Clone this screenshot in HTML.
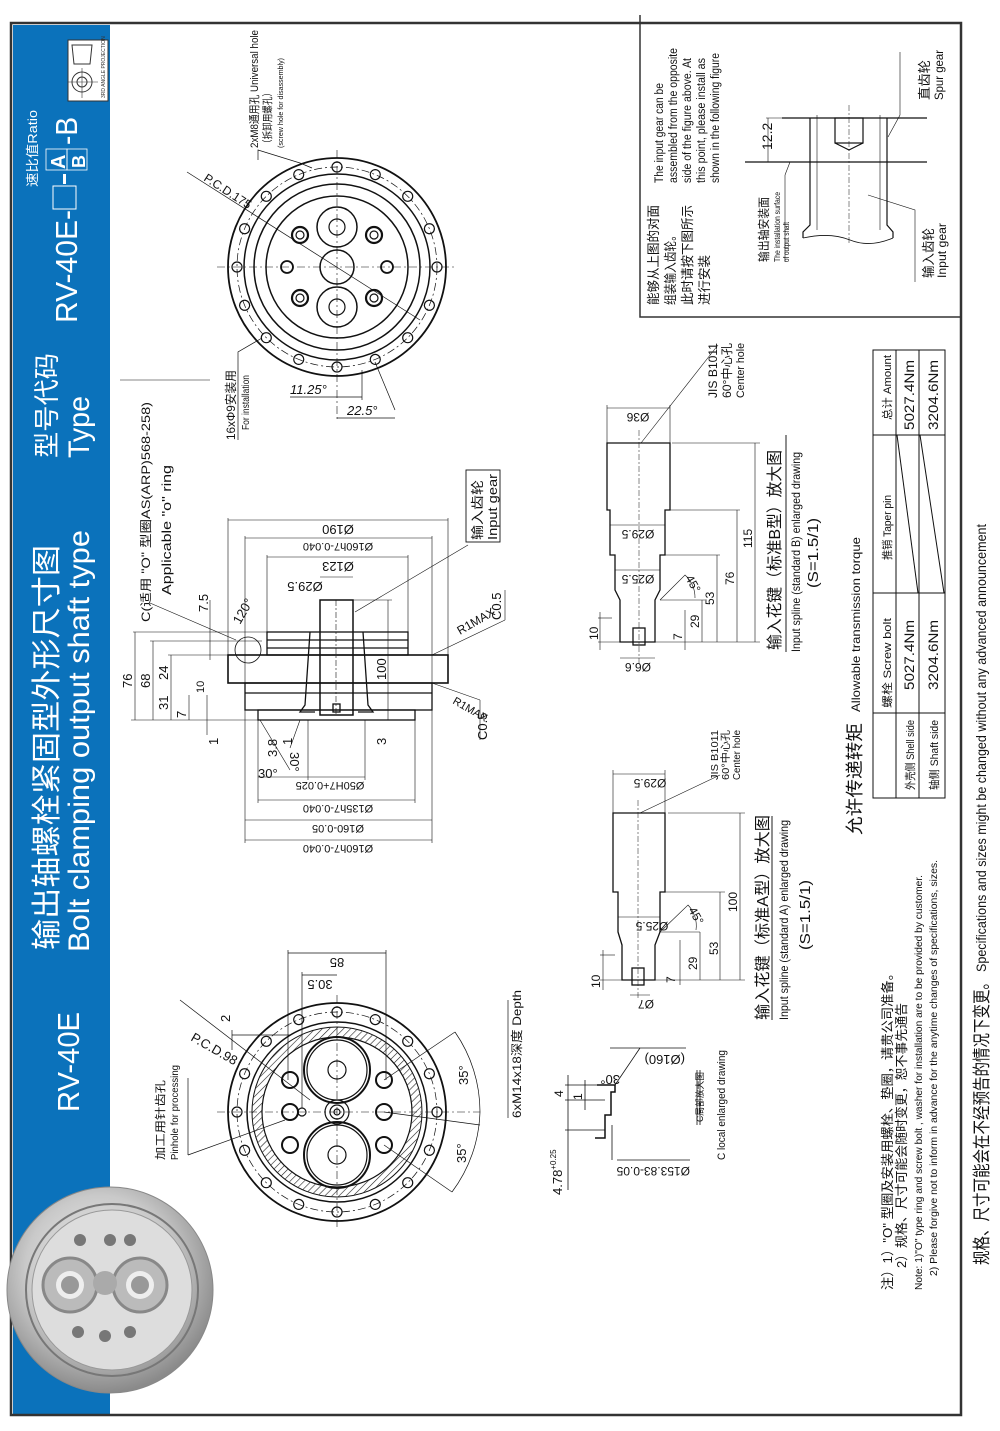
<!DOCTYPE html>
<html><head><meta charset="utf-8"><style>
html,body{margin:0;padding:0;background:#fff}
svg{display:block}
text{font-family:"Liberation Sans","Noto Sans CJK SC",sans-serif}
</style></head><body>
<svg width="1000" height="1431" viewBox="0 0 1000 1431" xmlns="http://www.w3.org/2000/svg">
<defs>
<radialGradient id="met" cx="45%" cy="40%" r="60%">
<stop offset="0" stop-color="#f4f4f4"/><stop offset="0.6" stop-color="#c9c9c9"/><stop offset="1" stop-color="#8a8a8a"/>
</radialGradient>
<pattern id="hat" width="5" height="5" patternUnits="userSpaceOnUse" patternTransform="rotate(45)">
<line x1="0" y1="0" x2="0" y2="5" stroke="#222" stroke-width="1.2"/></pattern>
</defs>
<rect x="0" y="0" width="1000" height="1431" fill="#fff"/>
<rect x="13" y="25" width="97" height="1389" fill="#0b72bb"/>
<rect x="11" y="23" width="950" height="1392" fill="none" stroke="#333" stroke-width="2.5"/>
<rect x="68" y="40" width="40" height="61" fill="#fff" stroke="#333"/>
<path d="M72 45 L92 45 L90 64 L74 64 Z" fill="none" stroke="#333"/>
<circle cx="82" cy="82" r="10" fill="none" stroke="#333"/><circle cx="82" cy="82" r="5" fill="none" stroke="#333"/>
<line x1="68" y1="82" x2="98" y2="82" stroke="#333" stroke-width=".6"/><line x1="82" y1="68" x2="82" y2="98" stroke="#333" stroke-width=".6"/>
<text transform="translate(105,98) rotate(-90)" font-size="5" fill="#333">3RD ANGLE PROJECTION</text>
<g fill="#fff">
<text transform="translate(37,187) rotate(-90)" font-size="13" textLength="77" lengthAdjust="spacingAndGlyphs">速比值Ratio</text>
<text transform="translate(77,323) rotate(-90)" font-size="31" textLength="113" lengthAdjust="spacingAndGlyphs">RV-40E-</text>
<rect x="53" y="186" width="23" height="23" fill="none" stroke="#fff" stroke-width="1"/>
<rect x="63" y="174" width="3" height="10"/>
<rect x="46" y="149" width="21" height="21" fill="none" stroke="#fff" stroke-width=".8"/><rect x="67" y="149" width="20" height="21" fill="none" stroke="#fff" stroke-width=".8"/>
<text transform="translate(65,169) rotate(-90)" font-size="20" font-weight="bold">A</text>
<text transform="translate(85,168) rotate(-90)" font-size="18" font-weight="bold">B</text>
<text transform="translate(77,145) rotate(-90)" font-size="31" textLength="28" lengthAdjust="spacingAndGlyphs">-B</text>
<text transform="translate(56,458) rotate(-90)" font-size="26" textLength="105" lengthAdjust="spacingAndGlyphs">型号代码</text>
<text transform="translate(89,458) rotate(-90)" font-size="30" textLength="62" lengthAdjust="spacingAndGlyphs">Type</text>
<text transform="translate(57,950) rotate(-90)" font-size="30" textLength="405" lengthAdjust="spacingAndGlyphs">输出轴螺栓紧固型外形尺寸图</text>
<text transform="translate(89,952) rotate(-90)" font-size="30" textLength="422" lengthAdjust="spacingAndGlyphs">Bolt clamping output shaft type</text>
<text transform="translate(79,1112) rotate(-90)" font-size="31" textLength="100" lengthAdjust="spacingAndGlyphs">RV-40E</text>
</g>
<g>
<circle cx="110" cy="1290" r="103" fill="url(#met)" stroke="#888"/>
<circle cx="112" cy="1290" r="86" fill="none" stroke="#777" stroke-width="2"/>
<circle cx="112" cy="1290" r="80" fill="#ddd" stroke="#999"/>
<circle cx="70" cy="1285" r="27" fill="#bbb" stroke="#888" stroke-width="3"/><circle cx="70" cy="1285" r="14" fill="#eee"/><circle cx="70" cy="1285" r="9" fill="#999"/>
<circle cx="140" cy="1285" r="27" fill="#bbb" stroke="#888" stroke-width="3"/><circle cx="140" cy="1285" r="14" fill="#eee"/><circle cx="140" cy="1285" r="9" fill="#999"/>
<circle cx="105" cy="1283" r="12" fill="#aaa"/>
<circle cx="80" cy="1240" r="6" fill="#777"/><circle cx="110" cy="1240" r="6" fill="#777"/><circle cx="130" cy="1240" r="6" fill="#777"/>
<circle cx="78" cy="1332" r="6" fill="#777"/><circle cx="105" cy="1336" r="6" fill="#777"/><circle cx="130" cy="1332" r="6" fill="#777"/>
</g>
<g fill="none" stroke="#111" stroke-width="1.2">
<circle cx="337" cy="267" r="109" stroke-width="1.8"/>
<circle cx="337" cy="267" r="100" stroke-dasharray="8 3 2 3" stroke-width=".7"/>
<circle cx="337" cy="267" r="93" stroke-width="1.5"/>
<circle cx="337" cy="267" r="83" stroke-width="1.5"/>
<circle cx="337" cy="267" r="71" stroke-width="1.5"/>
<g id="h16"><circle cx="437" cy="267" r="5"/></g>
<use href="#h16" transform="rotate(22.5 337 267)"/><use href="#h16" transform="rotate(45 337 267)"/><use href="#h16" transform="rotate(67.5 337 267)"/>
<use href="#h16" transform="rotate(90 337 267)"/><use href="#h16" transform="rotate(112.5 337 267)"/><use href="#h16" transform="rotate(135 337 267)"/>
<use href="#h16" transform="rotate(157.5 337 267)"/><use href="#h16" transform="rotate(180 337 267)"/><use href="#h16" transform="rotate(202.5 337 267)"/>
<use href="#h16" transform="rotate(225 337 267)"/><use href="#h16" transform="rotate(247.5 337 267)"/><use href="#h16" transform="rotate(270 337 267)"/>
<use href="#h16" transform="rotate(292.5 337 267)"/><use href="#h16" transform="rotate(315 337 267)"/><use href="#h16" transform="rotate(337.5 337 267)"/>
<circle cx="337" cy="267" r="17" stroke-width="1.5"/>
<circle cx="337" cy="227" r="20" stroke-width="1.5"/><circle cx="337" cy="227" r="8"/>
<circle cx="337" cy="307" r="20" stroke-width="1.5"/><circle cx="337" cy="307" r="8"/>
<circle cx="300" cy="235" r="8" stroke-width="2.2"/><circle cx="300" cy="235" r="4"/>
<circle cx="374" cy="235" r="8" stroke-width="2.2"/><circle cx="374" cy="235" r="4"/>
<circle cx="300" cy="298" r="8" stroke-width="2.2"/><circle cx="300" cy="298" r="4"/>
<circle cx="374" cy="298" r="8" stroke-width="2.2"/><circle cx="374" cy="298" r="4"/>
<circle cx="287" cy="267" r="6" stroke-width="1.8"/><circle cx="387" cy="267" r="6" stroke-width="1.8"/>
<line x1="217" y1="267" x2="457" y2="267" stroke-width=".6" stroke-dasharray="8 3 2 3"/>
<line x1="337" y1="150" x2="337" y2="420" stroke-width=".6" stroke-dasharray="8 3 2 3"/>
<line x1="187" y1="172" x2="420" y2="320" stroke-width=".7"/>
<polyline points="258,160 258,150 300,163 312,168" stroke-width=".7"/>
<polyline points="238,440 238,352 262,338" stroke-width=".7"/>
<line x1="290" y1="397" x2="362" y2="397" stroke-width=".7"/><line x1="362" y1="370" x2="362" y2="400" stroke-width=".7"/>
<line x1="337" y1="418" x2="395" y2="418" stroke-width=".7"/><line x1="375" y1="362" x2="395" y2="410" stroke-width=".7"/>
</g>
<g fill="#111">
<text transform="translate(203,180) rotate(33)" font-size="12">P.C.D.175</text>
<text transform="translate(258,148) rotate(-90)" font-size="11" textLength="118" lengthAdjust="spacingAndGlyphs">2xM8通用孔 Universal hole</text>
<text transform="translate(271,148) rotate(-90)" font-size="10.5" textLength="60" lengthAdjust="spacingAndGlyphs">（拆卸用螺孔）</text>
<text transform="translate(283,148) rotate(-90)" font-size="7" textLength="90" lengthAdjust="spacingAndGlyphs">(screw hole for disassembly)</text>
<text transform="translate(235,440) rotate(-90)" font-size="12" textLength="70" lengthAdjust="spacingAndGlyphs">16xΦ9安装用</text>
<text transform="translate(249,430) rotate(-90)" font-size="10" textLength="55" lengthAdjust="spacingAndGlyphs">For installation</text>
<text x="290" y="394" font-size="13" font-style="italic">11.25°</text>
<text x="347" y="415" font-size="13" font-style="italic">22.5°</text>
</g>
<g fill="none" stroke="#111" stroke-width="1.3">
<rect x="228" y="655" width="220" height="28" stroke-width="1.6"/>
<rect x="267" y="632" width="141" height="23"/>
<line x1="267" y1="640" x2="408" y2="640"/><line x1="267" y1="648" x2="408" y2="648"/>
<rect x="245" y="683" width="187" height="27"/>
<line x1="245" y1="693" x2="432" y2="693"/>
<rect x="258" y="710" width="157" height="10"/>
<rect x="320" y="600" width="33" height="115" stroke-width="1.5"/>
<path d="M310 632 L305 705 L300 712 L315 712 M363 632 L368 705 L373 712 L358 712"/>
<line x1="336" y1="600" x2="336" y2="715" stroke-width=".6" stroke-dasharray="6 2 2 2"/>
<rect x="333" y="704" width="7" height="8"/>
<circle cx="248" cy="650" r="13" stroke-width=".8"/>
<g stroke-width=".6">
<line x1="228" y1="520" x2="448" y2="520"/><line x1="228" y1="518" x2="228" y2="655"/><line x1="448" y1="518" x2="448" y2="655"/>
<line x1="245" y1="538" x2="432" y2="538"/><line x1="245" y1="536" x2="245" y2="683"/><line x1="432" y1="536" x2="432" y2="683"/>
<line x1="267" y1="557" x2="408" y2="557"/><line x1="267" y1="555" x2="267" y2="632"/><line x1="408" y1="555" x2="408" y2="632"/>
<line x1="320" y1="577" x2="353" y2="577"/>
<line x1="258" y1="777" x2="365" y2="777"/><line x1="308" y1="720" x2="308" y2="780"/><line x1="365" y1="720" x2="365" y2="780"/>
<line x1="258" y1="800" x2="415" y2="800"/><line x1="258" y1="720" x2="258" y2="803"/><line x1="415" y1="720" x2="415" y2="803"/>
<line x1="245" y1="820" x2="432" y2="820"/><line x1="245" y1="710" x2="245" y2="843"/><line x1="432" y1="710" x2="432" y2="843"/>
<line x1="245" y1="840" x2="432" y2="840"/>
<line x1="135" y1="632" x2="135" y2="720"/><line x1="133" y1="632" x2="267" y2="632"/>
<line x1="153" y1="641" x2="153" y2="720"/><line x1="150" y1="641" x2="262" y2="641"/>
<line x1="171" y1="655" x2="171" y2="720"/><line x1="168" y1="655" x2="228" y2="655"/>
<line x1="189" y1="695" x2="189" y2="720"/><line x1="131" y1="720" x2="258" y2="720"/>
<line x1="207" y1="695" x2="207" y2="735"/>
<line x1="210" y1="600" x2="210" y2="660"/>
<line x1="388" y1="600" x2="388" y2="720"/><line x1="353" y1="600" x2="392" y2="600"/>
<line x1="150" y1="603" x2="236" y2="640"/>
<line x1="120" y1="380" x2="210" y2="380"/>
<line x1="355" y1="612" x2="468" y2="545"/>
<line x1="432" y1="655" x2="505" y2="620"/><line x1="505" y1="620" x2="505" y2="590"/>
<line x1="432" y1="683" x2="480" y2="700"/><line x1="480" y1="700" x2="480" y2="740"/>
<line x1="260" y1="720" x2="290" y2="770"/>
<line x1="300" y1="720" x2="290" y2="748"/>
</g>
<rect x="466" y="470" width="34" height="72" stroke-width=".9"/>
</g>
<g fill="#111" font-size="13">
<text transform="translate(338,525) rotate(180)" text-anchor="middle">Ø190</text>
<text transform="translate(338,543) rotate(180)" text-anchor="middle" font-size="11">Ø160h7-0.040</text>
<text transform="translate(338,562) rotate(180)" text-anchor="middle">Ø123</text>
<text transform="translate(305,582) rotate(180)" text-anchor="middle">Ø29.5</text>
<text transform="translate(330,782) rotate(180)" text-anchor="middle" font-size="11">Ø50H7+0.025</text>
<text transform="translate(338,805) rotate(180)" text-anchor="middle" font-size="11">Ø135h7-0.040</text>
<text transform="translate(338,825) rotate(180)" text-anchor="middle" font-size="11">Ø160-0.05</text>
<text transform="translate(338,845) rotate(180)" text-anchor="middle" font-size="11">Ø160h7-0.040</text>
<text transform="translate(132,688) rotate(-90)">76</text>
<text transform="translate(150,688) rotate(-90)">68</text>
<text transform="translate(168,680) rotate(-90)">24</text>
<text transform="translate(168,710) rotate(-90)">31</text>
<text transform="translate(186,718) rotate(-90)">7</text>
<text transform="translate(204,693) rotate(-90)" font-size="11">10</text>
<text transform="translate(218,745) rotate(-90)">1</text>
<text transform="translate(208,612) rotate(-90)">7.5</text>
<text transform="translate(386,680) rotate(-90)">100</text>
<text transform="translate(386,745) rotate(-90)">3</text>
<text transform="translate(277,757) rotate(-90)">3.8</text>
<text transform="translate(292,745) rotate(-90)">1</text>
<text x="258" y="778">30°</text>
<text transform="translate(290,752) rotate(90)">30°</text>
<text transform="translate(240,625) rotate(-60)">120°</text>
<text transform="translate(460,635) rotate(-30)" font-size="12">R1MAX</text>
<text transform="translate(452,703) rotate(30)" font-size="11">R1MAX</text>
<text transform="translate(501,620) rotate(-90)">C0.5</text>
<text transform="translate(487,740) rotate(-90)">C0.5</text>
<text transform="translate(150,622) rotate(-90)" font-size="12" textLength="220" lengthAdjust="spacingAndGlyphs">C(适用 "O" 型圈AS(ARP)568-258)</text>
<text transform="translate(171,595) rotate(-90)" font-size="13" textLength="130" lengthAdjust="spacingAndGlyphs">Applicable "o" ring</text>
<text transform="translate(482,540) rotate(-90)" font-size="13" textLength="60" lengthAdjust="spacingAndGlyphs">输入齿轮</text>
<text transform="translate(497,540) rotate(-90)" font-size="13" textLength="66" lengthAdjust="spacingAndGlyphs">Input gear</text>
</g>
<g fill="none" stroke="#111" stroke-width="1.2">
<circle cx="337" cy="1112" r="109" stroke-width="1.8"/>
<circle cx="337" cy="1112" r="100" stroke-dasharray="8 3 2 3" stroke-width=".7"/>
<circle cx="337" cy="1112" r="90" stroke-width="1.5"/>
<circle cx="337" cy="1112" r="80" stroke="url(#hat)" stroke-width="9"/>
<circle cx="337" cy="1112" r="85" stroke-width="1"/>
<circle cx="337" cy="1112" r="75" stroke-width="1.2"/>
<g id="g16"><circle cx="437" cy="1112" r="5"/></g>
<use href="#g16" transform="rotate(22.5 337 1112)"/><use href="#g16" transform="rotate(45 337 1112)"/><use href="#g16" transform="rotate(67.5 337 1112)"/>
<use href="#g16" transform="rotate(90 337 1112)"/><use href="#g16" transform="rotate(112.5 337 1112)"/><use href="#g16" transform="rotate(135 337 1112)"/>
<use href="#g16" transform="rotate(157.5 337 1112)"/><use href="#g16" transform="rotate(180 337 1112)"/><use href="#g16" transform="rotate(202.5 337 1112)"/>
<use href="#g16" transform="rotate(225 337 1112)"/><use href="#g16" transform="rotate(247.5 337 1112)"/><use href="#g16" transform="rotate(270 337 1112)"/>
<use href="#g16" transform="rotate(292.5 337 1112)"/><use href="#g16" transform="rotate(315 337 1112)"/><use href="#g16" transform="rotate(337.5 337 1112)"/>
<circle cx="337" cy="1070" r="33" stroke-width="2"/><circle cx="337" cy="1070" r="30"/><circle cx="337" cy="1070" r="9"/>
<circle cx="337" cy="1155" r="33" stroke-width="2"/><circle cx="337" cy="1155" r="30"/><circle cx="337" cy="1155" r="9"/>
<circle cx="337" cy="1112" r="12"/><circle cx="337" cy="1112" r="7"/><circle cx="337" cy="1112" r="3"/>
<circle cx="290" cy="1080" r="8" stroke-width="2"/><circle cx="384" cy="1080" r="8" stroke-width="2"/>
<circle cx="290" cy="1112" r="8" stroke-width="2"/><circle cx="384" cy="1112" r="8" stroke-width="2"/>
<circle cx="290" cy="1145" r="8" stroke-width="2"/><circle cx="384" cy="1145" r="8" stroke-width="2"/>
<circle cx="302" cy="1112" r="4"/>
<line x1="217" y1="1112" x2="480" y2="1112" stroke-width=".6" stroke-dasharray="8 3 2 3"/>
<line x1="337" y1="995" x2="337" y2="1230" stroke-width=".6" stroke-dasharray="8 3 2 3"/>
<g stroke-width=".7">
<line x1="288" y1="953" x2="386" y2="953"/><line x1="288" y1="950" x2="288" y2="1080"/><line x1="386" y1="950" x2="386" y2="1080"/>
<line x1="302" y1="975" x2="337" y2="975"/><line x1="302" y1="972" x2="302" y2="1108"/>
<line x1="232" y1="1035" x2="290" y2="1035"/><line x1="232" y1="1030" x2="232" y2="1050"/>
<line x1="180" y1="1000" x2="310" y2="1100"/>
<line x1="188" y1="1078" x2="188" y2="1155"/><line x1="188" y1="1155" x2="285" y2="1120"/>
<line x1="384" y1="1080" x2="455" y2="1032"/><line x1="384" y1="1145" x2="452" y2="1192"/>
<line x1="384" y1="1112" x2="480" y2="1125"/>
<path d="M455 1032 A140 140 0 0 1 480 1112 A140 140 0 0 1 452 1192"/>
<line x1="508" y1="1118" x2="508" y2="1000"/>
</g>
</g>
<g fill="#111" font-size="13">
<text transform="translate(337,958) rotate(180)" text-anchor="middle">85</text>
<text transform="translate(320,980) rotate(180)" text-anchor="middle">30.5</text>
<text transform="translate(230,1022) rotate(-90)">2</text>
<text transform="translate(190,1040) rotate(30)">P.C.D.98</text>
<text transform="translate(468,1085) rotate(-90)">35°</text>
<text transform="translate(466,1163) rotate(-90)">35°</text>
<text transform="translate(164,1160) rotate(-90)" font-size="11" textLength="80" lengthAdjust="spacingAndGlyphs">加工用针齿孔</text>
<text transform="translate(178,1160) rotate(-90)" font-size="10" textLength="95" lengthAdjust="spacingAndGlyphs">Pinhole for processing</text>
<text transform="translate(521,1118) rotate(-90)" font-size="12" textLength="128" lengthAdjust="spacingAndGlyphs">6xM14x18深度 Depth</text>
</g>
<g fill="none" stroke="#111" stroke-width=".8">
<path d="M597 1085 L615 1085 L615 1092 L611 1092 L611 1115 L605 1115 L605 1138 L595 1138" stroke-width="1.5"/>
<line x1="615" y1="1085" x2="640" y2="1048"/>
<line x1="610" y1="1048" x2="686" y2="1048"/><line x1="617" y1="1160" x2="690" y2="1160"/>
<line x1="565" y1="1085" x2="605" y2="1085"/><line x1="565" y1="1100" x2="605" y2="1100"/><line x1="565" y1="1130" x2="605" y2="1130"/>
<line x1="568" y1="1075" x2="568" y2="1190"/><line x1="585" y1="1080" x2="585" y2="1110"/>
<line x1="612" y1="1125" x2="612" y2="1160"/>
<line x1="697" y1="1070" x2="697" y2="1125"/><line x1="700" y1="1070" x2="700" y2="1125"/>
</g>
<g fill="#111">
<text transform="translate(563,1097) rotate(-90)" font-size="12">4</text>
<text transform="translate(582,1100) rotate(-90)" font-size="12">1</text>
<text transform="translate(562,1195) rotate(-90)" font-size="13">4.78<tspan font-size="8" dy="-6">+0.25</tspan></text>
<text transform="translate(620,1075) rotate(180)" font-size="13">30°</text>
<text transform="translate(685,1055) rotate(180)" font-size="13">(Ø160)</text>
<text transform="translate(690,1167) rotate(180)" font-size="12">Ø153.83-0.05</text>
<text transform="translate(703,1122) rotate(-90)" font-size="9" textLength="50" lengthAdjust="spacingAndGlyphs">C局部放大图</text>
<text transform="translate(725,1160) rotate(-90)" font-size="11" textLength="110" lengthAdjust="spacingAndGlyphs">C local enlarged drawing</text>
</g>
<g fill="none" stroke="#111" stroke-width="1.3">
<path d="M613 813 L665 813 L665 892 L660 892 L660 932 L655 945 L655 980 L622 980 L622 945 L618 932 L618 892 L613 892 Z"/>
<rect x="632" y="968" width="12" height="17"/>
<line x1="638" y1="800" x2="638" y2="1000" stroke-width=".5" stroke-dasharray="6 2 2 2"/>
<g stroke-width=".6">
<line x1="613" y1="774" x2="665" y2="774"/><line x1="613" y1="770" x2="613" y2="813"/><line x1="665" y1="770" x2="665" y2="813"/>
<line x1="618" y1="917" x2="660" y2="917"/>
<line x1="630" y1="995" x2="650" y2="995"/>
<line x1="668" y1="813" x2="745" y2="813"/><line x1="740" y1="813" x2="740" y2="980"/>
<line x1="665" y1="892" x2="725" y2="892"/><line x1="720" y1="892" x2="720" y2="980"/>
<line x1="660" y1="932" x2="700" y2="932"/><line x1="700" y1="932" x2="700" y2="980"/>
<line x1="680" y1="940" x2="680" y2="985"/>
<line x1="600" y1="980" x2="745" y2="980"/><line x1="600" y1="955" x2="615" y2="955"/>
<line x1="603" y1="950" x2="603" y2="990"/>
<line x1="640" y1="813" x2="720" y2="775"/>
<path d="M660 932 L688 905 A30 30 0 0 1 696 930"/>
</g>
</g>
<g fill="#111" font-size="12">
<text transform="translate(650,779) rotate(180)" text-anchor="middle">Ø29.5</text>
<text transform="translate(652,922) rotate(180)" text-anchor="middle">Ø25.5</text>
<text transform="translate(646,1000) rotate(180)" text-anchor="middle">Ø7</text>
<text transform="translate(737,912) rotate(-90)">100</text>
<text transform="translate(718,955) rotate(-90)">53</text>
<text transform="translate(697,970) rotate(-90)">29</text>
<text transform="translate(675,983) rotate(-90)">7</text>
<text transform="translate(600,988) rotate(-90)">10</text>
<text transform="translate(688,910) rotate(60)">45°</text>
<text transform="translate(718,780) rotate(-90)" font-size="10" textLength="50" lengthAdjust="spacingAndGlyphs">JIS B1011</text>
<text transform="translate(729,780) rotate(-90)" font-size="10" textLength="50" lengthAdjust="spacingAndGlyphs">60°中心孔</text>
<text transform="translate(740,780) rotate(-90)" font-size="10" textLength="50" lengthAdjust="spacingAndGlyphs">Center hole</text>
<text transform="translate(768,1020) rotate(-90)" font-size="16" textLength="205" lengthAdjust="spacingAndGlyphs">输入花键（标准A型）放大图</text>
<text transform="translate(788,1020) rotate(-90)" font-size="12" textLength="200" lengthAdjust="spacingAndGlyphs">Input spline (standard A) enlarged drawing</text>
<text transform="translate(810,950) rotate(-90)" font-size="15" textLength="70" lengthAdjust="spacingAndGlyphs">(S=1.5/1)</text>
</g>
<line x1="772" y1="1020" x2="772" y2="816" stroke="#444" stroke-width="1.2"/>
<g fill="none" stroke="#111" stroke-width="1.3">
<path d="M607 443 L670 443 L670 510 L665 510 L665 555 L660 555 L660 590 L655 600 L655 642 L620 642 L620 600 L615 590 L615 555 L610 555 L610 510 L607 510 Z"/>
<rect x="633" y="628" width="12" height="17"/>
<line x1="639" y1="430" x2="639" y2="665" stroke-width=".5" stroke-dasharray="6 2 2 2"/>
<g stroke-width=".6">
<line x1="607" y1="408" x2="670" y2="408"/><line x1="607" y1="405" x2="607" y2="443"/><line x1="670" y1="405" x2="670" y2="443"/>
<line x1="610" y1="525" x2="665" y2="525"/><line x1="615" y1="570" x2="660" y2="570"/>
<line x1="620" y1="658" x2="655" y2="658"/>
<line x1="672" y1="443" x2="760" y2="443"/><line x1="755" y1="443" x2="755" y2="642"/>
<line x1="670" y1="510" x2="740" y2="510"/><line x1="737" y1="510" x2="737" y2="642"/>
<line x1="665" y1="555" x2="720" y2="555"/><line x1="717" y1="555" x2="717" y2="642"/>
<line x1="660" y1="600" x2="705" y2="600"/><line x1="702" y1="600" x2="702" y2="642"/>
<line x1="685" y1="610" x2="685" y2="650"/>
<line x1="598" y1="642" x2="760" y2="642"/><line x1="598" y1="618" x2="612" y2="618"/><line x1="600" y1="612" x2="600" y2="650"/>
<line x1="641" y1="443" x2="718" y2="345"/>
<path d="M660 600 L685 575 A30 30 0 0 1 695 598"/>
</g>
</g>
<g fill="#111" font-size="12">
<text transform="translate(638,413) rotate(180)" text-anchor="middle">Ø36</text>
<text transform="translate(638,530) rotate(180)" text-anchor="middle">Ø29.5</text>
<text transform="translate(638,575) rotate(180)" text-anchor="middle">Ø25.5</text>
<text transform="translate(638,663) rotate(180)" text-anchor="middle">Ø6.6</text>
<text transform="translate(752,548) rotate(-90)">115</text>
<text transform="translate(734,585) rotate(-90)">76</text>
<text transform="translate(714,605) rotate(-90)">53</text>
<text transform="translate(699,628) rotate(-90)">29</text>
<text transform="translate(682,640) rotate(-90)">7</text>
<text transform="translate(598,640) rotate(-90)">10</text>
<text transform="translate(685,578) rotate(60)">45°</text>
<text transform="translate(717,398) rotate(-90)" font-size="12" textLength="55" lengthAdjust="spacingAndGlyphs">JIS B1011</text>
<text transform="translate(731,398) rotate(-90)" font-size="12" textLength="55" lengthAdjust="spacingAndGlyphs">60°中心孔</text>
<text transform="translate(744,398) rotate(-90)" font-size="11" textLength="55" lengthAdjust="spacingAndGlyphs">Center hole</text>
<text transform="translate(780,650) rotate(-90)" font-size="16" textLength="200" lengthAdjust="spacingAndGlyphs">输入花键（标准B型）放大图</text>
<text transform="translate(800,652) rotate(-90)" font-size="12" textLength="200" lengthAdjust="spacingAndGlyphs">Input spline (standard B) enlarged drawing</text>
<text transform="translate(818,588) rotate(-90)" font-size="15" textLength="70" lengthAdjust="spacingAndGlyphs">(S=1.5/1)</text>
</g>
<line x1="786" y1="652" x2="786" y2="435" stroke="#444" stroke-width="1.2"/>
<polyline points="640,15 640,317 962,317" fill="none" stroke="#333" stroke-width="1.5"/>
<g fill="#111">
<text transform="translate(658,305) rotate(-90)" font-size="13" textLength="100" lengthAdjust="spacingAndGlyphs">能够从上图的对面</text>
<text transform="translate(675,305) rotate(-90)" font-size="13" textLength="75" lengthAdjust="spacingAndGlyphs">组装输入齿轮。</text>
<text transform="translate(692,305) rotate(-90)" font-size="13" textLength="100" lengthAdjust="spacingAndGlyphs">此时请按下图所示</text>
<text transform="translate(709,305) rotate(-90)" font-size="13" textLength="50" lengthAdjust="spacingAndGlyphs">进行安装</text>
<text transform="translate(663,183) rotate(-90)" font-size="11.5" textLength="100" lengthAdjust="spacingAndGlyphs">The input gear can be</text>
<text transform="translate(677,183) rotate(-90)" font-size="11.5" textLength="135" lengthAdjust="spacingAndGlyphs">assembled from the opposite</text>
<text transform="translate(691,183) rotate(-90)" font-size="11.5" textLength="125" lengthAdjust="spacingAndGlyphs">side of the figure above. At</text>
<text transform="translate(705,183) rotate(-90)" font-size="11.5" textLength="125" lengthAdjust="spacingAndGlyphs">this point, please install as</text>
<text transform="translate(719,183) rotate(-90)" font-size="11.5" textLength="130" lengthAdjust="spacingAndGlyphs">shown in the following figure</text>
<text transform="translate(772,150) rotate(-90)" font-size="14">12.2</text>
<text transform="translate(768,262) rotate(-90)" font-size="12" textLength="65" lengthAdjust="spacingAndGlyphs">输出轴安装面</text>
<text transform="translate(780,262) rotate(-90)" font-size="8" textLength="70" lengthAdjust="spacingAndGlyphs">The installation surface</text>
<text transform="translate(789,262) rotate(-90)" font-size="8" textLength="40" lengthAdjust="spacingAndGlyphs">of output shaft</text>
<text transform="translate(929,100) rotate(-90)" font-size="13" textLength="40" lengthAdjust="spacingAndGlyphs">直齿轮</text>
<text transform="translate(943,100) rotate(-90)" font-size="12" textLength="50" lengthAdjust="spacingAndGlyphs">Spur gear</text>
<text transform="translate(933,278) rotate(-90)" font-size="13" textLength="50" lengthAdjust="spacingAndGlyphs">输入齿轮</text>
<text transform="translate(946,278) rotate(-90)" font-size="12" textLength="55" lengthAdjust="spacingAndGlyphs">Input gear</text>
</g>
<g fill="none" stroke="#111" stroke-width="1.2">
<line x1="782" y1="118" x2="927" y2="118"/><line x1="745" y1="162" x2="927" y2="162"/>
<path d="M810 118 L810 225 L803 232 L803 238 M887 118 L887 225 L893 232 L893 238"/>
<path d="M803 238 Q830 232 850 240 T893 238" stroke-width=".8"/>
<rect x="835" y="118" width="28" height="25"/><path d="M835 143 L849 150 L863 143"/>
<line x1="849" y1="105" x2="849" y2="245" stroke-width=".5" stroke-dasharray="6 2 2 2"/>
<line x1="817" y1="115" x2="817" y2="230" stroke-width=".6"/><line x1="880" y1="115" x2="880" y2="230" stroke-width=".6"/>
<line x1="766" y1="118" x2="810" y2="118" stroke-width=".6"/><line x1="768" y1="118" x2="768" y2="162" stroke-width=".6"/>
<line x1="785" y1="175" x2="785" y2="262" stroke-width=".6"/><line x1="785" y1="175" x2="790" y2="162" stroke-width=".6"/>
<polyline points="900,52 900,115 888,137" stroke-width=".6"/>
<polyline points="915,282 915,210 868,195" stroke-width=".6"/>
</g>
<g fill="#111">
<text transform="translate(861,835) rotate(-90)" font-size="18" textLength="112" lengthAdjust="spacingAndGlyphs">允许传递转矩</text>
<text transform="translate(860,712) rotate(-90)" font-size="12" textLength="175" lengthAdjust="spacingAndGlyphs">Allowable transmission torque</text>
</g>
<g fill="none" stroke="#111" stroke-width="1">
<rect x="873" y="350" width="72" height="448"/>
<line x1="896" y1="350" x2="896" y2="798"/><line x1="919" y1="350" x2="919" y2="798"/>
<line x1="873" y1="435" x2="945" y2="435"/><line x1="873" y1="593" x2="945" y2="593"/><line x1="873" y1="713" x2="945" y2="713"/>
<line x1="897" y1="435" x2="918" y2="593"/><line x1="920" y1="435" x2="944" y2="593"/>
</g>
<g fill="#111" font-size="13">
<text transform="translate(891,420) rotate(-90)" font-size="11" textLength="65" lengthAdjust="spacingAndGlyphs">总计 Amount</text>
<text transform="translate(914,430) rotate(-90)" font-size="14" textLength="70" lengthAdjust="spacingAndGlyphs">5027.4Nm</text>
<text transform="translate(938,430) rotate(-90)" font-size="14" textLength="70" lengthAdjust="spacingAndGlyphs">3204.6Nm</text>
<text transform="translate(891,560) rotate(-90)" font-size="11" textLength="65" lengthAdjust="spacingAndGlyphs">推销 Taper pin</text>
<text transform="translate(891,708) rotate(-90)" font-size="11" textLength="90" lengthAdjust="spacingAndGlyphs">螺栓 Screw bolt</text>
<text transform="translate(914,690) rotate(-90)" font-size="14" textLength="70" lengthAdjust="spacingAndGlyphs">5027.4Nm</text>
<text transform="translate(938,690) rotate(-90)" font-size="14" textLength="70" lengthAdjust="spacingAndGlyphs">3204.6Nm</text>
<text transform="translate(914,790) rotate(-90)" font-size="11" textLength="70" lengthAdjust="spacingAndGlyphs">外壳侧 Shell side</text>
<text transform="translate(938,790) rotate(-90)" font-size="11" textLength="70" lengthAdjust="spacingAndGlyphs">轴侧 Shaft side</text>
</g>
<g fill="#111">
<text transform="translate(892,1290) rotate(-90)" font-size="13" textLength="323" lengthAdjust="spacingAndGlyphs">注）1）"O" 型圈及安装用螺栓、垫圈，请贵公司准备。</text>
<text transform="translate(906,1268) rotate(-90)" font-size="13" textLength="265" lengthAdjust="spacingAndGlyphs">2）规格、尺寸可能会随时变更，恕不事先通告</text>
<text transform="translate(922,1290) rotate(-90)" font-size="10" textLength="415" lengthAdjust="spacingAndGlyphs">Note: 1)"O" type ring and screw bolt , washer for installation are to be provided by customer.</text>
<text transform="translate(937,1276) rotate(-90)" font-size="10" textLength="416" lengthAdjust="spacingAndGlyphs">2) Please forgive not to inform in advance for the anytime changes of specifications, sizes.</text>
<text transform="translate(988,1265) rotate(-90)" font-size="18" textLength="290" lengthAdjust="spacingAndGlyphs">规格、尺寸可能会在不经预告的情况下变更。</text>
<text transform="translate(986,972) rotate(-90)" font-size="14" textLength="448" lengthAdjust="spacingAndGlyphs">Specifications and sizes might be changed without any advanced announcement</text>
</g>
</svg>
</body></html>
